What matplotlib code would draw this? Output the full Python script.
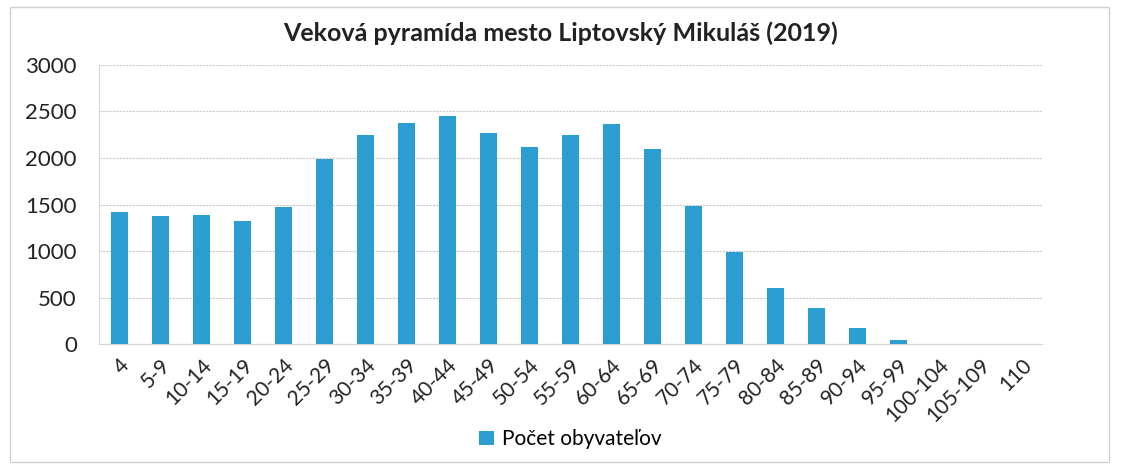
import numpy as np
import matplotlib.pyplot as plt
from matplotlib.patches import Rectangle

plt.rcParams['font.family'] = ['Lato', 'DejaVu Sans']

# Vekové skupiny a počty obyvateľov
vek_skupiny = ['4', '5-9', '10-14', '15-19', '20-24', '25-29', '30-34', '35-39',
               '40-44', '45-49', '50-54', '55-59', '60-64', '65-69', '70-74',
               '75-79', '80-84', '85-89', '90-94', '95-99', '100-104',
               '105-109', '110']
pocet = [1424, 1381, 1392, 1327, 1478, 1985, 2244, 2374,
         2449, 2266, 2115, 2244, 2363, 2093, 1489,
         993, 604, 388, 172, 43, 2, 0, 0]

farba = '#2b9dd0'

fig = plt.figure(figsize=(11.21, 4.67), dpi=100)
ax = fig.add_axes([0.0883, 0.263, 0.841, 0.598])

# rámik grafu
fig.patches.append(Rectangle((0.009, 0.01), 0.98, 0.975, transform=fig.transFigure,
                             fill=False, edgecolor='#d0d0d0', linewidth=1))

x = np.arange(len(vek_skupiny))
ax.bar(x, pocet, width=0.42, color=farba, label='Počet obyvateľov', zorder=3)

ax.set_xlim(-0.5, len(vek_skupiny) - 0.5)
ax.set_ylim(0, 3000)
ax.set_yticks(range(0, 3001, 500))
ax.tick_params(axis='y', length=0, labelsize=16, pad=16, colors='#222222')
ax.set_xticks(x)
ax.set_xticklabels(vek_skupiny, rotation=45, ha='right', rotation_mode='anchor',
                   fontsize=15, color='#222222')
ax.tick_params(axis='x', length=0, pad=8)

ax.grid(axis='y', color='#c8c8c8', linestyle=(0, (2, 1)), linewidth=0.8, zorder=0)
for s in ['top', 'right']:
    ax.spines[s].set_visible(False)
ax.spines['left'].set_color('#d5d5d5')
ax.spines['bottom'].set_color('#d5d5d5')

fig.text(0.5, 0.928, 'Veková pyramída mesto Liptovský Mikuláš (2019)',
         ha='center', va='center', fontsize=18, fontweight='bold', color='#222222')

ax.legend(loc='center', bbox_to_anchor=(0.5, -0.34), frameon=False, fontsize=15,
          handlelength=0.7, handleheight=0.7, handletextpad=0.4)

fig.savefig('out.png', dpi=100)
